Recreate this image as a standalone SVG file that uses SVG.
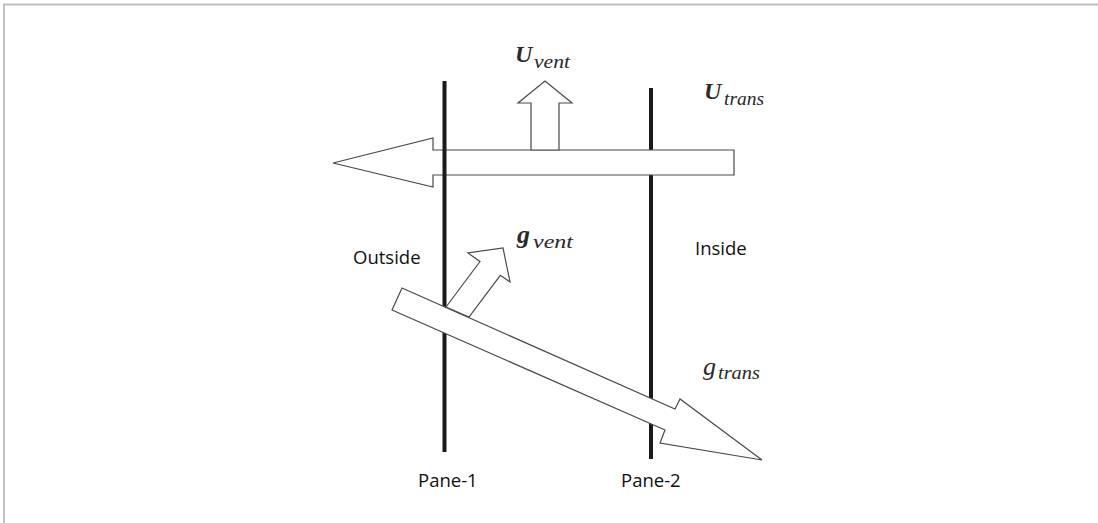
<svg xmlns="http://www.w3.org/2000/svg" width="1098" height="523" viewBox="0 0 1098 523">
<style>
.pane{stroke:#1a1a1a;stroke-width:4;fill:none}
.arr{fill:#fff;stroke:#4a4a4a;stroke-width:1.2;stroke-linejoin:miter}
.lbl{font-family:"Open Sans","Noto Sans",sans-serif;font-size:18.5px;fill:#111}
.m{font-family:"Liberation Serif",serif;font-style:italic;fill:#2a2a2a}
.big{font-size:24px;font-weight:bold}
.sub{font-size:18px}
</style>
<rect width="1098" height="523" fill="#fff"/>
<path d="M4,523 V4.5 H1098" fill="none" stroke="#c0c0c0" stroke-width="2"/>
<g id="pane2"><line class="pane" x1="651" y1="88" x2="651" y2="459"/></g>
<g id="connectors">
<polygon id="u_trans_arrow" class="arr" points="333,163 433,138 433,150 734,150 734,175 433,175 433,187"/>
<polygon id="u_vent_arrow" class="arr" points="531,150 531,103 518,103 545,81 572,103 559,103 559,150"/>
</g>
<g id="pane1"><line class="pane" x1="444.5" y1="81" x2="444.5" y2="452"/></g>
<g id="connectors2">
<polygon id="g_trans_arrow" class="arr" points="402,288 675,409 680,399 762,460 660,443 665,430 392,310"/>
<polygon id="g_vent_arrow" class="arr" points="446,307 480,261.5 468,253 503,248 510,282 500.3,275.3 469,317"/>
</g>
<g id="labels">
<text class="lbl" x="353" y="264">Outside</text>
<text class="lbl" x="695" y="255">Inside</text>
<text class="lbl" x="418" y="487">Pane-1</text>
<text class="lbl" x="621" y="487">Pane-2</text>
<g id="u_vent_label">
<text class="m big" x="515" y="62">U</text>
<text class="m sub" x="534" y="68" textLength="36" lengthAdjust="spacingAndGlyphs">vent</text>
</g>
<g id="u_trans_label">
<text class="m big" x="704" y="99">U</text>
<text class="m sub" x="724" y="105" textLength="40" lengthAdjust="spacingAndGlyphs">trans</text>
</g>
<g id="g_vent_label">
<text class="m big" x="517" y="243" style="font-size:26px">g</text>
<text class="m sub" x="533" y="248" textLength="40" lengthAdjust="spacingAndGlyphs">vent</text>
</g>
<g id="g_trans_label">
<text class="m" x="703" y="375" fill="#444" style="font-size:26px">g</text>
<text class="m sub" x="718" y="379" fill="#444" textLength="42" lengthAdjust="spacingAndGlyphs">trans</text>
</g>
</g>
</svg>
